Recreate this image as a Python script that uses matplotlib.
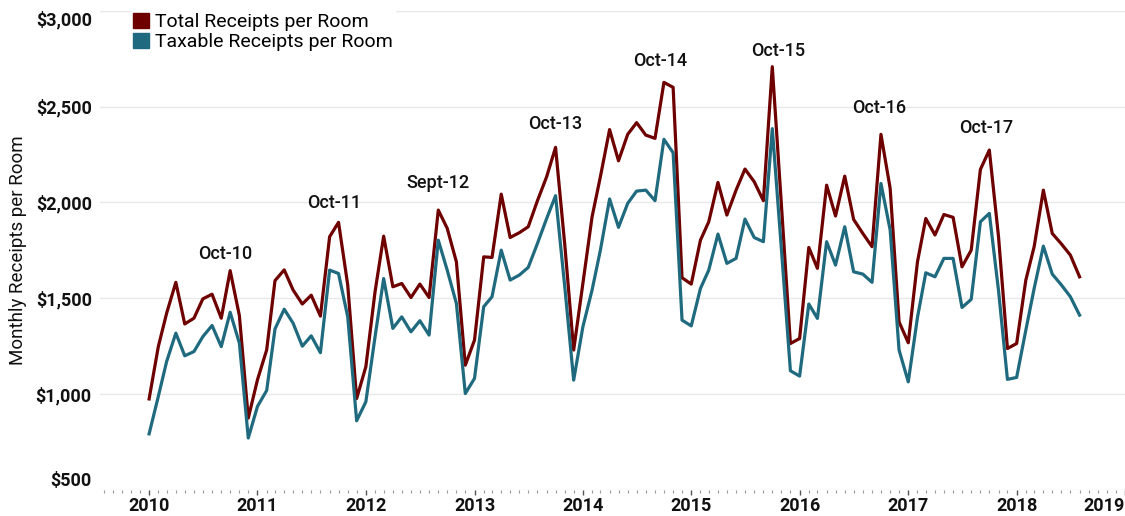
import matplotlib.pyplot as plt
import matplotlib.dates as md
import matplotlib.ticker as mt
from matplotlib.patches import Patch
import pandas as pd

plt.rcParams['font.family'] = ['Roboto', 'DejaVu Sans']

# monthly values, Jan 2010 - Aug 2018
months = pd.date_range('2010-01-01', periods=104, freq='MS')

total_receipts = [
    975, 1248, 1422, 1583, 1366, 1396, 1497, 1521, 1396, 1644, 1410, 875,
    1075, 1231, 1592, 1648, 1543, 1470, 1516, 1407, 1821, 1896, 1569, 977,
    1143, 1534, 1824, 1560, 1577, 1504, 1574, 1504, 1960, 1865, 1690, 1151,
    1282, 1716, 1713, 2043, 1817, 1842, 1873, 2009, 2134, 2287, 1780, 1230,
    1577, 1925, 2134, 2380, 2217, 2355, 2416, 2351, 2334, 2626, 2600, 1607,
    1574, 1803, 1899, 2104, 1934, 2064, 2174, 2108, 2009, 2708, 1980, 1264,
    1290, 1765, 1656, 2090, 1929, 2137, 1911, 1838, 1769, 2355, 2073, 1377,
    1268, 1690, 1916, 1830, 1937, 1922, 1664, 1751, 2172, 2273, 1821, 1238,
    1264, 1595, 1769, 2064, 1838, 1783, 1725, 1612,
]

taxable_receipts = [
    793, 988, 1170, 1318, 1200, 1222, 1300, 1358, 1248, 1427, 1266, 771,
    936, 1019, 1340, 1443, 1370, 1250, 1304, 1216, 1647, 1629, 1403, 861,
    960, 1299, 1603, 1343, 1403, 1325, 1383, 1308, 1803, 1647, 1473, 1003,
    1082, 1456, 1508, 1751, 1595, 1621, 1661, 1786, 1916, 2035, 1560, 1073,
    1351, 1543, 1751, 2018, 1870, 1995, 2059, 2064, 2009, 2329, 2259, 1386,
    1356, 1551, 1647, 1835, 1682, 1708, 1913, 1817, 1795, 2385, 1750, 1122,
    1094, 1470, 1395, 1795, 1673, 1873, 1638, 1626, 1583, 2099, 1856, 1230,
    1064, 1400, 1633, 1612, 1708, 1708, 1452, 1494, 1899, 1943, 1540, 1077,
    1087, 1334, 1551, 1772, 1626, 1569, 1508, 1412,
]

peak_labels = ['Oct-10', 'Oct-11', 'Sept-12', 'Oct-13', 'Oct-14', 'Oct-15', 'Oct-16', 'Oct-17']
peak_dates = ['2010-09-15', '2011-09-15', '2012-09-01', '2013-10-01',
              '2014-09-20', '2015-10-20', '2016-09-25', '2017-09-20']
label_heights = [1729, 1995, 2099, 2407, 2740, 2792, 2495, 2386]

y_ticks = [500, 1000, 1500, 2000, 2500, 3000]
year_ticks = pd.date_range('2010-01-01', '2019-01-01', freq='YS')

red = '#6E0000'
teal = '#1F6A7E'

fig = plt.figure(figsize=(11.25, 5.16), dpi=100)
ax = fig.add_axes([0.089, 0.0504, 0.911, 0.9289])

ax.plot(months, total_receipts, color=red, linewidth=2.3)
ax.plot(months, taxable_receipts, color=teal, linewidth=2.3)

for txt, d, h in zip(peak_labels, peak_dates, label_heights):
    ax.text(pd.Timestamp(d), h, txt, ha='center', va='center',
            fontsize=13, fontweight='medium', color='#111111')

ax.set_xlim(pd.Timestamp('2009-07-20'), pd.Timestamp('2019-01-01'))
ax.set_ylim(500, 3000)

# y axis: dollar labels, light grid
ax.set_yticks(y_ticks)
ax.yaxis.set_major_formatter(mt.FuncFormatter(lambda v, p: '${:,.0f}'.format(v)))
ax.grid(axis='y', color='#E8E8E8', linewidth=1)
ax.set_axisbelow(True)
ax.tick_params(axis='y', length=0, pad=6, labelsize=13, labelcolor='#111111')
ax.set_ylabel('Monthly Receipts per Room', fontsize=13.5, color='#111111', labelpad=6)

# x axis: yearly labels, monthly minor ticks
ax.set_xticks(year_ticks)
ax.xaxis.set_major_formatter(md.DateFormatter('%Y'))
ax.xaxis.set_minor_locator(md.MonthLocator())
ax.tick_params(axis='x', which='major', length=3.5, width=1, color='#555555',
               labelsize=13, labelcolor='#111111', pad=1.5)
ax.tick_params(axis='x', which='minor', length=2, width=0.8, color='#999999')

for s in ax.spines.values():
    s.set_visible(False)

yt = ax.yaxis.get_major_ticks()
for t in yt:
    t.label1.set_fontweight('bold')
yt[0].label1.set_verticalalignment('bottom')
yt[-1].label1.set_verticalalignment('top')
xt = ax.xaxis.get_major_ticks()
for t in xt:
    t.label1.set_fontweight('bold')
xt[-1].label1.set_horizontalalignment('right')

ax.legend(handles=[Patch(color=red, label='Total Receipts per Room'),
                   Patch(color=teal, label='Taxable Receipts per Room')],
          loc='upper left', bbox_to_anchor=(0.021, 1.02), frameon=True,
          fancybox=False, edgecolor='white', framealpha=1,
          handlelength=0.8, handleheight=0.8, handletextpad=0.3,
          labelspacing=0.12, borderpad=0.1, fontsize=14)

fig.savefig('out.png', dpi=100)
